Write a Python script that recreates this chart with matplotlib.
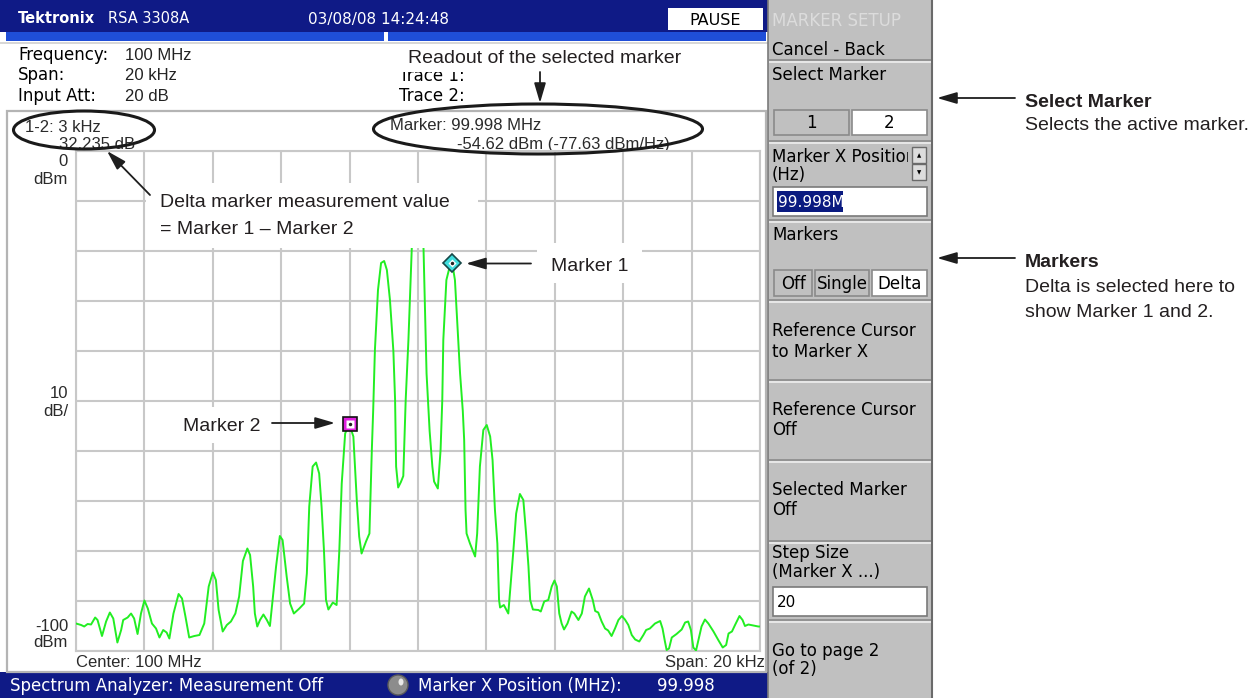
import numpy as np
import matplotlib
matplotlib.use('Agg')
import matplotlib.pyplot as plt
from matplotlib.patches import Rectangle, Ellipse, Circle

# trace: offset from centre frequency (kHz) and level (dBm)
freq_khz = [
    -10.00, -9.85, -9.76, -9.66, -9.56, -9.44, -9.37, -9.24, -9.12, -9.01,
    -8.91, -8.79, -8.68, -8.62, -8.49, -8.39, -8.30, -8.20, -8.10, -8.00,
    -7.90, -7.78, -7.66, -7.56, -7.45, -7.35, -7.27, -7.15, -7.00, -6.90,
    -6.80, -6.69, -6.54, -6.39, -6.25, -6.12, -6.00, -5.91, -5.83, -5.71,
    -5.59, -5.47, -5.34, -5.23, -5.12, -4.99, -4.91, -4.82, -4.77, -4.70,
    -4.62, -4.52, -4.42, -4.33, -4.25, -4.15, -4.04, -3.96, -3.84, -3.74,
    -3.63, -3.47, -3.33, -3.25, -3.18, -3.08, -2.98, -2.89, -2.82, -2.75,
    -2.69, -2.62, -2.49, -2.38, -2.30, -2.23, -2.13, -2.01, -1.89, -1.79,
    -1.72, -1.65, -1.52, -1.42, -1.35, -1.31, -1.26, -1.17, -1.08, -0.99,
    -0.91, -0.82, -0.72, -0.67, -0.64, -0.58, -0.50, -0.43, -0.36, -0.28,
    -0.18, -0.10, 0.00, 0.10, 0.16, 0.25, 0.34, 0.42, 0.47, 0.58,
    0.66, 0.71, 0.74, 0.83, 0.95, 1.00, 1.08, 1.23, 1.31, 1.35,
    1.39, 1.42, 1.52, 1.67, 1.73, 1.81, 1.91, 2.01, 2.11, 2.18,
    2.25, 2.32, 2.37, 2.40, 2.51, 2.64, 2.71, 2.79, 2.87, 2.98,
    3.08, 3.16, 3.23, 3.28, 3.36, 3.52, 3.59, 3.69, 3.81, 3.91,
    3.99, 4.06, 4.13, 4.20, 4.27, 4.37, 4.49, 4.57, 4.69, 4.79,
    4.88, 5.00, 5.11, 5.18, 5.27, 5.37, 5.47, 5.56, 5.66, 5.76,
    5.86, 5.96, 6.05, 6.15, 6.25, 6.35, 6.47, 6.59, 6.67, 6.78,
    6.93, 7.08, 7.15, 7.22, 7.27, 7.34, 7.42, 7.56, 7.71, 7.81,
    7.90, 7.98, 8.05, 8.13, 8.20, 8.29, 8.39, 8.49, 8.64, 8.78,
    8.91, 9.01, 9.08, 9.18, 9.27, 9.40, 9.49, 9.56, 9.66, 9.81,
    9.95, 10.00]
level_dbm = [
    -94.5, -94.8, -95.1, -94.6, -94.7, -93.3, -93.8, -97.0, -94.1, -92.3,
    -93.5, -98.3, -95.8, -93.8, -93.3, -92.5, -93.5, -96.6, -92.5, -89.9,
    -91.5, -94.5, -95.5, -97.3, -95.8, -96.3, -97.5, -92.5, -88.6, -89.5,
    -93.1, -97.3, -97.0, -96.8, -94.5, -87.1, -84.3, -85.8, -91.8, -96.1,
    -94.8, -94.1, -92.5, -89.1, -82.0, -79.5, -80.8, -87.1, -92.5, -95.1,
    -93.8, -92.7, -93.8, -95.0, -89.8, -83.1, -77.0, -77.8, -85.1, -90.5,
    -92.5, -91.5, -90.5, -84.5, -71.1, -63.1, -62.3, -64.5, -71.1, -79.8,
    -89.8, -91.7, -90.3, -90.8, -79.8, -66.5, -56.5, -54.6, -57.1, -69.8,
    -77.1, -80.5, -78.1, -76.5, -59.8, -51.8, -39.8, -27.8, -22.4, -22.0,
    -23.8, -29.8, -40.0, -49.8, -63.1, -67.3, -66.2, -65.0, -49.8, -37.8,
    -19.1, -15.0, -14.2, -15.0, -19.1, -44.5, -56.0, -63.1, -66.1, -67.5,
    -59.8, -49.8, -37.8, -25.8, -22.5, -22.4, -25.8, -44.5, -52.0, -57.8,
    -71.8, -76.5, -78.5, -81.1, -76.5, -63.1, -55.8, -54.8, -57.1, -61.8,
    -71.8, -78.5, -89.8, -91.3, -90.8, -92.5, -86.5, -79.8, -72.5, -68.6,
    -69.8, -76.5, -83.1, -89.8, -91.7, -91.8, -92.1, -90.1, -89.8, -87.1,
    -85.9, -87.1, -92.5, -94.5, -95.7, -94.5, -92.1, -92.5, -93.8, -92.5,
    -89.1, -87.5, -89.8, -92.0, -92.3, -94.1, -95.5, -95.9, -97.0, -95.5,
    -93.8, -93.0, -93.7, -94.8, -96.8, -97.7, -98.1, -96.8, -95.8, -95.5,
    -94.5, -94.0, -95.5, -98.1, -99.8, -99.5, -97.3, -96.6, -95.7, -94.3,
    -94.1, -95.8, -99.3, -99.9, -97.8, -95.1, -93.7, -94.5, -96.1, -97.8,
    -99.3, -98.8, -96.5, -96.1, -94.8, -93.0, -93.8, -95.0, -94.7, -94.9,
    -95.1, -95.1]

span_khz = 20
ref_level = 0        # dBm at top of screen
db_per_div = 10
n_div = 10

mkr1 = (1.0, -22.385)    # marker 1 (100.001 MHz)
mkr2 = (-2.0, -54.62)    # marker 2 (99.998 MHz), selected

info_labels = ['Frequency:', 'Span:', 'Input Att:']
info_values = ['100 MHz', '20 kHz', '20 dB']

# menu text lines: (text, baseline y)
menu_lines = [('Cancel - Back', 55), ('Select Marker', 80),
              ('Marker X Position', 162), ('(Hz)', 180), ('Markers', 240),
              ('Reference Cursor', 336), ('to Marker X', 357),
              ('Reference Cursor', 415), ('Off', 435),
              ('Selected Marker', 495), ('Off', 515),
              ('Step Size', 558), ('(Marker X ...)', 577),
              ('Go to page 2', 656), ('(of 2)', 674)]
menu_seps = [60, 141, 220, 300, 380, 460, 541, 620]

W, H = 1256, 698
NAVY = '#0f1a86'
BLUE = '#1f4ed8'
MENU = '#c0c0c0'
GRID = '#c8c8c8'
INK = '#231f20'
CALLOUT = ['Liberation Sans', 'DejaVu Sans']
SCREEN = ['Liberation Sans', 'DejaVu Sans']

plt.rcParams['font.family'] = ['DejaVu Sans']

fig = plt.figure(figsize=(W / 100, H / 100), dpi=100)
fig.patch.set_facecolor('white')


def screen_axes(z):
    a = fig.add_axes([0, 0, 1, 1], zorder=z)
    a.set_xlim(0, W)
    a.set_ylim(H, 0)
    a.axis('off')
    a.set_facecolor('none')
    return a


bg = screen_axes(0)
ov = screen_axes(3)


def rect(a, x0, y0, x1, y1, fc, ec='none', lw=1, z=1):
    a.add_patch(Rectangle((x0, y0), x1 - x0, y1 - y0, facecolor=fc,
                          edgecolor=ec, linewidth=lw, zorder=z))


def line(a, xs, ys, c, lw=1, z=2):
    a.plot(xs, ys, color=c, lw=lw, zorder=z, solid_capstyle='butt')


def arrow(x0, y0, x1, y1):
    ov.annotate('', xy=(x1, y1), xytext=(x0, y0),
                arrowprops=dict(arrowstyle='-|>,head_length=0.75,head_width=0.22',
                                color='#1e1e1e', lw=1.3, mutation_scale=16,
                                shrinkA=0, shrinkB=0), zorder=6)


## top status bar
rect(bg, 0, 0, 768, 32, NAVY)
rect(bg, 6, 32, 384, 41, BLUE)
rect(bg, 388, 32, 766, 41, BLUE)
line(bg, [0, 768], [43, 43], '#cfcfcf', 1.2)
bg.text(18, 23, 'Tektronix', color='white', fontsize=10.5, fontweight='bold')
bg.text(108, 23, 'RSA 3308A', color='white', fontsize=10.5)
bg.text(379, 24, '03/08/08 14:24:48', color='white', fontsize=11, ha='center')
rect(bg, 668, 8, 763, 30, 'white', z=2)
bg.text(715, 25, 'PAUSE', fontsize=11.5, ha='center', zorder=3)

## setup info
for i, (lab, val) in enumerate(zip(info_labels, info_values)):
    yb = 60 + 20.5 * i
    bg.text(18, yb, lab, fontsize=12, color='black')
    bg.text(125, yb, val, fontsize=12, family=SCREEN, color='#222222')
bg.text(399, 81, 'Trace 1:', fontsize=12)
bg.text(399, 101, 'Trace 2:', fontsize=12)

## plot panel frame and readouts
rect(bg, 7, 111, 766, 672, 'none', ec='#b4b4b4', lw=1.6, z=2)
clip = Rectangle((0, 0), W, 146.5, transform=bg.transData)
for x, yb, s in [(25, 132, '1-2: 3 kHz'), (59, 149, '32.235 dB'),
                 (390, 130, 'Marker: 99.998 MHz'),
                 (457, 149, '-54.62 dBm (-77.63 dBm/Hz)')]:
    t = bg.text(x, yb, s, fontsize=12, family=SCREEN, color='#2a2a2a')
    t.set_clip_path(clip)

for yb, s in [(166, '0'), (184, 'dBm'), (398, '10'), (416, 'dB/'),
              (631, '-100'), (647, 'dBm')]:
    bg.text(68, yb, s, fontsize=12, family=SCREEN, color='#2a2a2a', ha='right')
bg.text(76, 667, 'Center: 100 MHz', fontsize=12, family=SCREEN, color='#2a2a2a')
bg.text(765, 667, 'Span: 20 kHz', fontsize=12, family=SCREEN, color='#2a2a2a',
        ha='right')

## bottom status bar
rect(bg, 0, 672, 768, 698, NAVY)
bg.text(10, 691, 'Spectrum Analyzer: Measurement Off', color='white', fontsize=12)
bg.add_patch(Circle((398, 685), 10, facecolor='#8c8c8c', edgecolor='#5a5a5a',
                    lw=1, zorder=3))
bg.add_patch(Ellipse((401, 682), 5, 7, facecolor='#e8e8e8', edgecolor='none',
                     zorder=4))
bg.text(418, 691, 'Marker X Position (MHz):', color='white', fontsize=12)
bg.text(657, 691, '99.998', color='white', fontsize=12)

## menu panel
rect(bg, 768, 0, 932, 698, MENU)
line(bg, [768, 768], [0, 698], '#7a7a7a', 1.2)
line(bg, [932, 932], [0, 698], '#6a6a6a', 1.5)
for y in menu_seps:
    line(bg, [769, 931], [y, y], '#8a8a8a', 1.2)
    line(bg, [769, 931], [y + 1.6, y + 1.6], '#eeeeee', 1.2)
bg.text(772, 26, 'MARKER SETUP', fontsize=12, color='#dcdcdc')
for s, yb in menu_lines:
    bg.text(772, yb, s, fontsize=12, color='black', zorder=3)

# select marker buttons
rect(bg, 774, 110, 849, 135, MENU, ec='#8a8a8a', lw=1.2, z=3)
rect(bg, 852, 110, 927, 135, 'white', ec='#8a8a8a', lw=1.2, z=3)
bg.text(811, 128, '1', fontsize=12, ha='center', zorder=4)
bg.text(889, 128, '2', fontsize=12, ha='center', zorder=4)

# marker x position spin box and entry
rect(bg, 908, 144, 931, 182, MENU, z=4)
rect(bg, 912, 147, 926, 163, '#dcdcdc', ec='#6a6a6a', lw=1, z=5)
rect(bg, 912, 164, 926, 180, '#dcdcdc', ec='#6a6a6a', lw=1, z=5)
bg.text(919, 155.5, '\u25b2', fontsize=4, ha='center', va='center', zorder=6)
bg.text(919, 172.5, '\u25bc', fontsize=4, ha='center', va='center', zorder=6)
rect(bg, 773, 187, 927, 216, 'white', ec='#7a7a7a', lw=1.2, z=3)
rect(bg, 777, 191, 843, 212, '#0a1a80', z=4)
bg.text(778, 207, '99.998M', fontsize=11, color='white', zorder=5)

# markers mode buttons
for (x0, x1, s, fc) in [(774, 812, 'Off', MENU), (815, 869, 'Single', MENU),
                        (872, 927, 'Delta', 'white')]:
    rect(bg, x0, 270, x1, 296, fc, ec='#8a8a8a', lw=1.2, z=3)
    bg.text((x0 + x1) / 2, 289, s, fontsize=12, ha='center', zorder=4)

# step size entry
rect(bg, 773, 587, 927, 616, 'white', ec='#7a7a7a', lw=1.2, z=3)
bg.text(777, 607, '20', fontsize=11, zorder=4)

## spectrum plot
ax = fig.add_axes([76 / W, 1 - 651 / H, 684 / W, 500 / H], zorder=2)
ax.set_facecolor('none')
ax.set_xlim(-span_khz / 2, span_khz / 2)
ax.set_ylim(ref_level - n_div * db_per_div, ref_level)
ax.set_xticks(np.linspace(-span_khz / 2, span_khz / 2, n_div + 1))
ax.set_yticks(np.arange(ref_level - n_div * db_per_div, ref_level + 1, db_per_div))
ax.tick_params(length=0, labelbottom=False, labelleft=False)
ax.grid(True, color=GRID, lw=1.5)
ax.set_axisbelow(True)
for s in ax.spines.values():
    s.set_color(GRID)
    s.set_linewidth(1.5)
ax.plot(freq_khz, level_dbm, color='#22ee22', lw=1.4, zorder=3)

# marker 1: cyan diamond, marker 2: magenta square
ax.plot(*mkr1, marker='D', ms=9.5, mfc='#3fdede', mec='#174848', mew=1.2,
        clip_on=False, zorder=5)
ax.plot(*mkr1, marker='D', ms=4.5, mfc='white', mec='none', clip_on=False, zorder=6)
ax.plot(*mkr2, marker='s', ms=10, mfc='#e020e0', mec='#111111', mew=1.2,
        clip_on=False, zorder=5)
ax.plot(*mkr2, marker='s', ms=5.5, mfc='white', mec='none', clip_on=False, zorder=6)
for m in (mkr1, mkr2):
    ax.plot(*m, marker='o', ms=2.5, mfc='#222222', mec='none', clip_on=False,
            zorder=7)

## callouts over the screen
rect(ov, 380, 44, 712, 72, 'white')
ov.text(408, 63, 'Readout of the selected marker', fontsize=14, family=CALLOUT,
        color=INK, zorder=4)
arrow(540, 72, 540, 103)

ov.add_patch(Ellipse((84, 130), 141, 38, fill=False, edgecolor='#1a1a1a', lw=2.2,
                     zorder=5))
ov.add_patch(Ellipse((538, 129), 329, 50, fill=False, edgecolor='#1a1a1a', lw=2.2,
                     zorder=5))

rect(ov, 146, 183, 478, 248, 'white')
ov.text(160, 207, 'Delta marker measurement value', fontsize=14, family=CALLOUT,
        color=INK, zorder=4)
ov.text(160, 234, '= Marker 1 \u2013 Marker 2', fontsize=14, family=CALLOUT,
        color=INK, zorder=4)
arrow(150, 195, 107, 151)

rect(ov, 537, 243, 642, 283, 'white')
ov.text(551, 271, 'Marker 1', fontsize=14, family=CALLOUT, color=INK, zorder=4)
arrow(531, 263.5, 466, 263.5)

rect(ov, 175, 407, 265, 443, 'white')
ov.text(183, 431, 'Marker 2', fontsize=14, family=CALLOUT, color=INK, zorder=4)
arrow(272, 423, 335, 423)

# notes to the right of the menu
arrow(1015, 98, 937, 98)
ov.text(1025, 107, 'Select Marker', fontsize=14, family=CALLOUT, color=INK,
        fontweight='bold')
ov.text(1025, 130, 'Selects the active marker.', fontsize=14, family=CALLOUT,
        color=INK)
arrow(1015, 258, 937, 258)
ov.text(1025, 267, 'Markers', fontsize=14, family=CALLOUT, color=INK,
        fontweight='bold')
ov.text(1025, 292, 'Delta is selected here to', fontsize=14, family=CALLOUT,
        color=INK)
ov.text(1025, 317, 'show Marker 1 and 2.', fontsize=14, family=CALLOUT, color=INK)

fig.savefig('out.png', dpi=100)
plt.close(fig)
